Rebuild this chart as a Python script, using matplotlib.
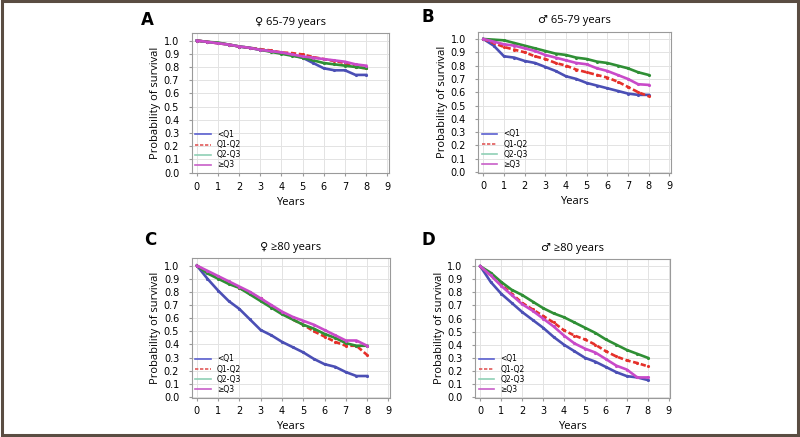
import numpy as np
import matplotlib
matplotlib.use('Agg')
import matplotlib.pyplot as plt
from matplotlib.lines import Line2D
from matplotlib.patches import Rectangle

years = [0, 0.5, 1, 1.5, 2, 2.5, 3, 3.5, 4, 4.5, 5, 5.5, 6, 6.5, 7, 7.5, 8]
labels = ['<Q1', 'Q1-Q2', 'Q2-Q3', '\u2265Q3']

# panel A: women 65-79
a_q1   = [1.0, 0.99, 0.98, 0.97, 0.955, 0.945, 0.93, 0.92, 0.905, 0.89, 0.87, 0.83, 0.79, 0.775, 0.775, 0.74, 0.74]
a_q12  = [1.0, 0.99, 0.98, 0.97, 0.955, 0.945, 0.935, 0.925, 0.91, 0.905, 0.895, 0.875, 0.86, 0.845, 0.83, 0.80, 0.79]
a_q23  = [1.0, 0.99, 0.985, 0.97, 0.955, 0.945, 0.93, 0.915, 0.90, 0.885, 0.87, 0.85, 0.83, 0.82, 0.81, 0.80, 0.79]
a_q3   = [1.0, 0.99, 0.98, 0.97, 0.955, 0.945, 0.93, 0.92, 0.91, 0.895, 0.88, 0.87, 0.86, 0.85, 0.84, 0.82, 0.81]

# panel B: men 65-79
b_q1   = [1.0, 0.95, 0.87, 0.86, 0.835, 0.82, 0.79, 0.76, 0.72, 0.70, 0.67, 0.65, 0.63, 0.61, 0.59, 0.58, 0.58]
b_q12  = [1.0, 0.97, 0.94, 0.92, 0.90, 0.87, 0.85, 0.82, 0.80, 0.77, 0.75, 0.73, 0.71, 0.68, 0.64, 0.60, 0.57]
b_q23  = [1.0, 0.995, 0.99, 0.97, 0.95, 0.93, 0.91, 0.89, 0.88, 0.86, 0.85, 0.83, 0.82, 0.80, 0.78, 0.75, 0.73]
b_q3   = [1.0, 0.98, 0.96, 0.95, 0.93, 0.91, 0.88, 0.86, 0.84, 0.82, 0.81, 0.78, 0.76, 0.73, 0.70, 0.66, 0.655]

# panel C: women >=80
c_q1   = [1.0, 0.90, 0.81, 0.73, 0.67, 0.59, 0.51, 0.47, 0.42, 0.38, 0.34, 0.29, 0.25, 0.23, 0.19, 0.16, 0.16]
c_q12  = [1.0, 0.95, 0.91, 0.87, 0.83, 0.79, 0.75, 0.69, 0.64, 0.59, 0.55, 0.50, 0.46, 0.42, 0.39, 0.39, 0.32]
c_q23  = [1.0, 0.94, 0.90, 0.86, 0.83, 0.78, 0.73, 0.68, 0.63, 0.59, 0.55, 0.52, 0.48, 0.45, 0.41, 0.39, 0.39]
c_q3   = [1.0, 0.96, 0.92, 0.88, 0.84, 0.80, 0.75, 0.70, 0.65, 0.61, 0.58, 0.55, 0.51, 0.47, 0.43, 0.43, 0.39]

# panel D: men >=80
d_q1   = [1.0, 0.88, 0.79, 0.72, 0.65, 0.59, 0.53, 0.46, 0.40, 0.35, 0.30, 0.27, 0.23, 0.19, 0.16, 0.15, 0.13]
d_q12  = [1.0, 0.93, 0.86, 0.79, 0.72, 0.67, 0.62, 0.57, 0.51, 0.47, 0.44, 0.40, 0.35, 0.31, 0.28, 0.26, 0.235]
d_q23  = [1.0, 0.95, 0.88, 0.82, 0.78, 0.73, 0.68, 0.64, 0.61, 0.57, 0.53, 0.49, 0.44, 0.40, 0.36, 0.33, 0.30]
d_q3   = [1.0, 0.93, 0.85, 0.78, 0.71, 0.66, 0.60, 0.54, 0.47, 0.41, 0.37, 0.34, 0.29, 0.24, 0.21, 0.15, 0.15]

panels = [
    ('A', '\u2640 65-79 years', [a_q1, a_q12, a_q23, a_q3], [0.2396, 0.6034, 0.2466, 0.3204]),
    ('B', '\u2642 65-79 years', [b_q1, b_q12, b_q23, b_q3], [0.598, 0.6048, 0.2405, 0.3227]),
    ('C', '\u2640 \u226580 years', [c_q1, c_q12, c_q23, c_q3], [0.2396, 0.0899, 0.248, 0.319]),
    ('D', '\u2642 \u226580 years', [d_q1, d_q12, d_q23, d_q3], [0.594, 0.0899, 0.244, 0.3174]),
]
letter_pos = {'A': (0.184, 0.954), 'B': (0.535, 0.962), 'C': (0.1875, 0.451), 'D': (0.535, 0.451)}

colors = ['#4b4fb5', '#e5302a', '#2f8f35', '#c94ac9']
styles = ['-', (0, (2, 1)), '-', '-']
leg_colors = ['#5a5fcf', '#e25a5a', '#8fd0b5', '#c85fc8']
label_font = ['Open Sans', 'DejaVu Sans']

fig = plt.figure(figsize=(8, 4.37), dpi=100)

for letter, title, series, rect in panels:
    ax = fig.add_axes(rect)
    for s, c, ls in zip(series, colors, styles):
        ax.plot(years, s, color=c, linestyle=ls, linewidth=1.9,
                marker='.', markersize=2.5)
    ax.set_xlim(-0.24, 9.08)
    ax.set_ylim(-0.005, 1.055)
    ax.set_xticks(range(0, 10))
    ax.set_yticks(np.arange(0, 1.01, 0.1))
    ax.set_yticklabels(['%.1f' % v for v in np.arange(0, 1.01, 0.1)])
    ax.grid(True, color='#e3e3e3', linewidth=0.7)
    ax.set_axisbelow(True)
    for sp in ax.spines.values():
        sp.set_color('#9a9a9a')
        sp.set_linewidth(0.8)
    ax.tick_params(labelsize=7, length=2, color='#9a9a9a')
    ax.tick_params(axis='y', pad=7)
    ax.tick_params(axis='x', pad=4)
    ax.set_xlabel('Years', fontsize=8, labelpad=3.5, family=label_font)
    ax.set_ylabel('Probability of survival', fontsize=8, labelpad=2, family=label_font)
    ax.set_title(title, fontsize=8, pad=6, family=label_font)
    handles = [Line2D([0], [0], color=c, linestyle=ls, linewidth=1.2)
               for c, ls in zip(leg_colors, styles)]
    ax.legend(handles, labels, loc='lower left', bbox_to_anchor=(0.0, 0.0),
              frameon=False, fontsize=5.5, handlelength=2.0, labelspacing=0.15,
              handletextpad=0.8, borderaxespad=0.1, borderpad=0.4)
    lx, ly = letter_pos[letter]
    fig.text(lx, ly, letter, fontsize=12, fontweight='bold', ha='center', va='center')

fig.patches.append(Rectangle((0.002, 0.004), 0.996, 0.993, transform=fig.transFigure,
                             fill=False, edgecolor='#5a4d42', linewidth=2.2))

fig.savefig('out.png', dpi=100)
